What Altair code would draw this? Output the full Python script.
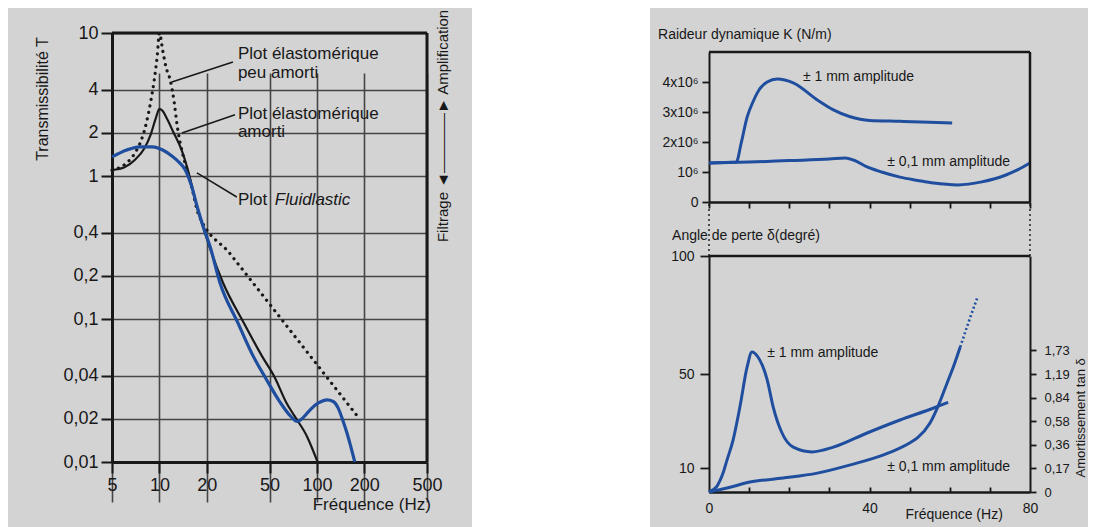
import altair as alt
import pandas as pd

# ---------------- left panel : transmissibility T vs frequency ----------------
freq_ticks = [5, 10, 20, 50, 100, 200, 500]
trans_ticks = [0.01, 0.02, 0.04, 0.1, 0.2, 0.4, 1, 2, 4, 10]

peu_f = [5, 6, 7, 7.7, 8.3, 8.8, 9.3, 9.7, 10, 10.5, 11, 11.7, 12.4, 13, 14, 15, 16.2, 17.6, 28.1, 50.4, 90.5, 182]
peu_T = [1.1, 1.2, 1.45, 1.8, 2.4, 3.3, 4.8, 7.0, 10, 7.5, 5.8, 4.7, 3.3, 2.2, 1.45, 1.1, 0.8, 0.55, 0.286, 0.126, 0.0553, 0.0207]

amo_f = [5, 6, 7, 8, 8.8, 9.5, 10, 10.5, 11.2, 12.2, 13.9, 15, 16.3, 17.6, 19.2, 21, 25.3, 34.3, 44.8, 54, 64, 72, 86.5, 101]
amo_T = [1.1, 1.15, 1.3, 1.55, 1.95, 2.55, 2.95, 2.85, 2.5, 2.05, 1.5, 1.15, 0.8, 0.57, 0.42, 0.31, 0.18, 0.094, 0.055, 0.039, 0.026, 0.021, 0.0151, 0.01]

flu_f = [5, 6.2, 7.5, 9, 10.5, 12, 13, 14.6, 16, 17.3, 19, 21, 24.2, 31.5, 39.4, 47, 58.6, 67.8, 75, 82, 90, 103, 116, 127, 136, 146, 155, 162, 174]
flu_T = [1.36, 1.52, 1.6, 1.6, 1.52, 1.38, 1.28, 1.1, 0.85, 0.62, 0.44, 0.32, 0.18, 0.094, 0.055, 0.039, 0.026, 0.021, 0.0192, 0.0205, 0.023, 0.026, 0.0272, 0.0265, 0.024, 0.0196, 0.016, 0.0135, 0.01]

left_text = ["Plot élastomérique", "peu amorti", "Plot élastomérique", "amorti", "Plot"]
left_text_f = [31.5, 31.5, 31.5, 31.5, 31.5]
left_text_T = [7.13, 5.25, 2.72, 2.03, 0.68]
italic_text = ["Fluidlastic"]
italic_text_f = [54]
italic_text_T = [0.68]

lead_f1 = [29.3, 30.2, 31.0]
lead_T1 = [6.27, 2.68, 0.713]
lead_f2 = [12.0, 13.9, 17.3]
lead_T2 = [4.54, 2.0, 1.05]

# ---------------- right panel : stiffness K and loss angle ----------------
hz_ticks = [0, 10, 20, 30, 40, 50, 60, 70, 80]
k_ticks = [0, 1e6, 2e6, 3e6, 4e6]
deg_ticks_left = [10, 50, 100]
deg_ticks_right = [0, 10, 20, 30, 40, 50, 60]
tan_labels = ["0", "0,17", "0,36", "0,58", "0,84", "1,19", "1,73"]

k1_f = [0, 6.8, 8, 9.5, 11, 12, 14.5, 17, 21, 27, 31, 35, 37.7, 40, 47.6, 55, 60.6]
k1_v = [1.3e6, 1.33e6, 1.95e6, 2.83e6, 3.35e6, 3.63e6, 4.0e6, 4.1e6, 3.97e6, 3.4e6, 3.07e6, 2.85e6, 2.76e6, 2.72e6, 2.69e6, 2.66e6, 2.63e6]
k01_f = [0, 10, 20, 30, 34, 36, 39.4, 43, 47.6, 52, 56, 62, 68, 74, 77, 80]
k01_v = [1.3e6, 1.33e6, 1.38e6, 1.43e6, 1.47e6, 1.4e6, 1.17e6, 1.0e6, 0.83e6, 0.72e6, 0.63e6, 0.57e6, 0.67e6, 0.9e6, 1.08e6, 1.3e6]

d1_f = [0, 2, 3.5, 4.5, 6, 7.7, 9.5, 10.7, 12.2, 14.5, 16, 18.2, 21, 25.7, 31, 39.4, 47.6, 56, 59.6]
d1_v = [0, 2.5, 8, 13.6, 22, 36, 53, 59.3, 57.2, 47.5, 36, 25, 19, 17, 19, 25, 30.5, 35.6, 38]
d01_f = [0, 4.5, 10.2, 18.5, 27, 35, 43.5, 50, 52, 55, 57, 59.3, 61, 62.6]
d01_v = [0, 1.7, 4.2, 5.9, 8, 11.4, 15.7, 20.8, 23, 29, 36, 46, 53.5, 61.4]
d01x_f = [62.6, 64.5, 66.8]
d01x_v = [61.4, 71, 82]

W, H = 1080, 519
FONT = "Liberation Sans"
INK = "#181818"
GRID = "#454545"
BLUE = "#1f4e9f"
BG = "#d3d3d3"

LX = alt.Scale(type="log", domain=[5, 500], range=[104, 419], nice=False)
LY = alt.Scale(type="log", domain=[0.01, 10], range=[454, 25], nice=False)
RX = alt.Scale(type="linear", domain=[0, 80], range=[701, 1022], nice=False, zero=False)
KY = alt.Scale(type="linear", domain=[0, 5e6], range=[194, 44], nice=False, zero=False)
DY = alt.Scale(type="linear", domain=[0, 100], range=[484, 248], nice=False, zero=False)

one = pd.DataFrame({"a": [0]})


def enc_xy(xs, ys, xaxis=None, yaxis=None, xf="x", yf="y"):
    return dict(
        x=alt.X(f"{xf}:Q", scale=xs, axis=xaxis),
        y=alt.Y(f"{yf}:Q", scale=ys, axis=yaxis),
    )


def curve(xv, yv, xs, ys, color, width, dash=None, xaxis=None, yaxis=None, cap="butt"):
    kw = dict(color=color, strokeWidth=width, interpolate="monotone", strokeCap=cap, strokeJoin="round")
    if dash is not None:
        kw["strokeDash"] = dash
    return alt.Chart(pd.DataFrame({"x": xv, "y": yv})).mark_line(**kw).encode(**enc_xy(xs, ys, xaxis, yaxis))


def rules(x1, x2, y1, y2, xs, ys, color, width, dash=None):
    kw = dict(color=color, strokeWidth=width)
    if dash is not None:
        kw["strokeDash"] = dash
    d = pd.DataFrame({"x": x1, "x2": x2, "y": y1, "y2": y2})
    return alt.Chart(d).mark_rule(**kw).encode(
        x=alt.X("x:Q", scale=xs, axis=None), x2="x2:Q",
        y=alt.Y("y:Q", scale=ys, axis=None), y2="y2:Q")


def texts(labels, xv, yv, xs, ys, size, align="left", angle=0, style="normal"):
    d = pd.DataFrame({"x": xv, "y": yv, "t": labels})
    return alt.Chart(d).mark_text(font=FONT, fontSize=size, color=INK, align=align, baseline="middle",
                                  angle=angle, fontStyle=style).encode(
        text="t:N", **enc_xy(xs, ys))


# ---------------- axes ----------------
ax_lx = alt.Axis(orient="bottom", offset=-(H - 454), values=freq_ticks, grid=True, gridColor=GRID, gridWidth=1.6,
                 domainColor=INK, domainWidth=3, tickColor=INK, tickWidth=2, tickSize=11,
                 labelFont=FONT, labelFontSize=18, labelColor=INK, labelPadding=3,
                 labelExpr="toString(datum.value)", labelOverlap=False, labelFlush=False, title=None)
ax_ly = alt.Axis(orient="left", offset=-104, values=trans_ticks, grid=True, gridColor=GRID, gridWidth=1.6,
                 domainColor=INK, domainWidth=3, tickColor=INK, tickWidth=2, tickSize=11,
                 labelFont=FONT, labelFontSize=18, labelColor=INK, labelPadding=3,
                 labelExpr="replace(toString(datum.value), '.', ',')", labelOverlap=False, title=None)

ax_kx = alt.Axis(orient="bottom", offset=-(H - 194), values=hz_ticks, labels=False, grid=False,
                 domainColor=INK, domainWidth=2.5, tickColor=INK, tickWidth=1.8, tickSize=6, title=None)
ax_ky = alt.Axis(orient="left", offset=-701, values=k_ticks, grid=False,
                 domainColor=INK, domainWidth=2, tickColor=INK, tickWidth=1.8, tickSize=7,
                 labelFont=FONT, labelFontSize=14, labelColor=INK, labelPadding=4, labelOverlap=False,
                 labelExpr="datum.value == 0 ? '0' : (datum.value == 1000000 ? '10⁶' : format(datum.value / 1000000, 'd') + 'x10⁶')",
                 title=None)

ax_dx = alt.Axis(orient="bottom", offset=-(H - 484), values=[0, 40, 80], ticks=False, grid=False,
                 domainColor=INK, domainWidth=2.5, labelFont=FONT, labelFontSize=14, labelColor=INK,
                 labelPadding=9, labelFlush=False, labelOverlap=False, title=None)
ax_dx_ticks = alt.Axis(orient="top", offset=-484, values=hz_ticks[1:-1], labels=False, domain=False, grid=False,
                       tickColor=INK, tickWidth=1.8, tickSize=5, title=None)
ax_dy = alt.Axis(orient="left", offset=-701, values=deg_ticks_left, grid=False,
                 domainColor=INK, domainWidth=2, tickColor=INK, tickWidth=1.8, tickSize=9,
                 labelFont=FONT, labelFontSize=14, labelColor=INK, labelPadding=6, labelOverlap=False, title=None)
ax_dy_r = alt.Axis(orient="right", offset=-(W - 1022), values=deg_ticks_right, grid=False,
                   domainColor=INK, domainWidth=2, tickColor=INK, tickWidth=1.8, tickSize=6,
                   labelFont=FONT, labelFontSize=13, labelColor=INK, labelPadding=8, labelOverlap=False,
                   labelExpr="[" + ",".join("'%s'" % s for s in tan_labels) + "][datum.value / 10]",
                   title=None)

# ---------------- layers ----------------
gap = alt.Chart(one).mark_rect(color="white").encode(
    x=alt.value(464), x2=alt.value(642), y=alt.value(0), y2=alt.value(H))

layers = [gap]

# left panel
layers.append(curve(peu_f, peu_T, LX, LY, INK, 3.2, dash=[0.1, 6.5], cap="round", xaxis=ax_lx, yaxis=ax_ly))
layers.append(curve(amo_f, amo_T, LX, LY, INK, 2.2))
layers.append(curve(flu_f, flu_T, LX, LY, BLUE, 3.2))
layers.append(rules([5, 500], [500, 500], [10, 0.01], [10, 10], LX, LY, INK, 3))
layers.append(rules(lead_f1, lead_f2, lead_T1, lead_T2, LX, LY, INK, 1.5))
layers.append(texts(left_text, left_text_f, left_text_T, LX, LY, 17))
layers.append(texts(italic_text, italic_text_f, italic_text_T, LX, LY, 17, style="italic"))
layers.append(texts(["Transmissibilité T"], [1.82], [3.45], LX, LY, 16, align="center", angle=270))
layers.append(texts(["Filtrage ◄————► Amplification"], [632], [2.24], LX, LY, 15, align="center", angle=270))
layers.append(texts(["Fréquence (Hz)"], [223], [0.005], LX, LY, 17, align="center"))

# right top panel (stiffness)
layers.append(curve(k1_f, k1_v, RX, KY, BLUE, 3, xaxis=ax_kx, yaxis=ax_ky))
layers.append(curve(k01_f, k01_v, RX, KY, BLUE, 3))
layers.append(rules([0, 80], [80, 80], [5e6, 0], [5e6, 5e6], RX, KY, INK, 2.5))
layers.append(texts(["± 1 mm amplitude", "± 0,1 mm amplitude"], [23.4, 44.4], [4.17e6, 1.33e6], RX, KY, 14))
layers.append(texts(["Raideur dynamique K (N/m)"], [-12.7], [5.57e6], RX, KY, 14))

# right bottom panel (loss angle)
layers.append(curve(d1_f, d1_v, RX, DY, BLUE, 3, xaxis=ax_dx, yaxis=ax_dy))
layers.append(curve(d01_f, d01_v, RX, DY, BLUE, 3, xaxis=ax_dx_ticks, yaxis=ax_dy_r))
layers.append(curve(d01x_f, d01x_v, RX, DY, BLUE, 2.6, dash=[2, 2.5]))
layers.append(rules([0], [80], [100], [100], RX, DY, INK, 2.5))
layers.append(rules([0, 80], [0, 80], [100, 100], [122.9, 122.9], RX, DY, INK, 1.4, dash=[2, 3]))
layers.append(texts(["± 1 mm amplitude", "± 0,1 mm amplitude"], [14.5, 44.4], [58.9, 10.6], RX, DY, 14))
layers.append(texts(["Angle de perte δ(degré)"], [-9.2], [108.5], RX, DY, 14))
layers.append(texts(["Fréquence (Hz)"], [61.1], [-9.7], RX, DY, 14, align="center"))
layers.append(texts(["Amortissement tan δ"], [92.6], [31.4], RX, DY, 13, align="center", angle=270))

chart = alt.layer(*layers).resolve_scale(x="independent", y="independent").properties(
    width=W, height=H, autosize=alt.AutoSizeParams(type="none"), padding=0, background=BG
).configure_view(stroke="transparent")

chart.save("out.html", embed_options={"renderer": "svg", "actions": False})
